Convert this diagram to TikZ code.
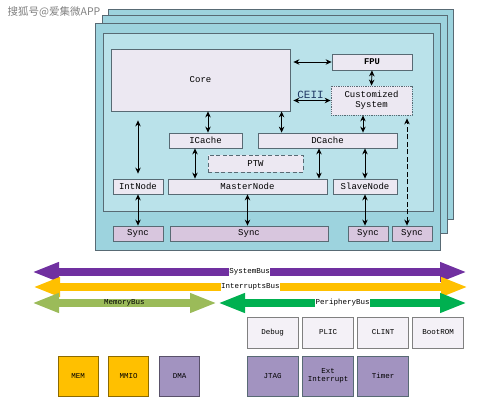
\documentclass[tikz,border=0pt]{standalone}
\usepackage{fontspec}
\setmonofont{Liberation Mono}
\newfontfamily\cjk{Noto Sans CJK SC}
\usetikzlibrary{positioning,calc,arrows.meta}

\definecolor{sheet}{RGB}{157,211,222}
\definecolor{inner}{RGB}{186,226,234}
\definecolor{edge}{RGB}{88,106,116}
\definecolor{unit}{RGB}{236,232,242}
\definecolor{syncc}{RGB}{216,198,222}
\definecolor{periph}{RGB}{162,147,192}
\definecolor{gold}{RGB}{255,192,0}
\definecolor{sysbus}{RGB}{112,48,160}
\definecolor{membus}{RGB}{155,187,89}
\definecolor{perbus}{RGB}{0,176,80}
\definecolor{ceil}{RGB}{31,56,100}

\begin{document}
\begin{tikzpicture}[x=1pt, y=-1pt, >={Stealth[length=6pt,width=5.5pt]},
  every box/.style={draw=edge, fill=unit, line width=0.8pt, inner sep=1pt,
    font=\ttfamily\fontsize{9}{10}\selectfont},
  wh/.style 2 args={minimum width=#1pt, minimum height=#2pt},
  sync box/.style={fill=syncc},
  small box/.style={font=\ttfamily\fontsize{7.5}{8.5}\selectfont, align=center, line width=1pt},
  link/.style={<->, line width=0.9pt},
  bus/.style={line width=7.5pt, arrows={Triangle[length=27pt,width=18pt]-Triangle[length=27pt,width=18pt]}},
  bus label/.style={font=\ttfamily\fontsize{7.5}{8}\selectfont, fill=white, inner sep=0.6pt}]

  \useasboundingbox (0,0) rectangle (500,417);

  \node [text=gray, font=\cjk\fontsize{10.5}{11}\selectfont, inner sep=0pt] (mark) at (54,12) {搜狐号@爱集微APP};

  % stacked cores
  \draw [edge, fill=sheet, line width=0.8pt] (108,9) rectangle (453,219);
  \draw [edge, fill=sheet, line width=0.8pt] (102,15) rectangle (447,233);
  \draw [edge, fill=sheet, line width=0.8pt] (95,23) rectangle (440,250);
  \draw [edge, fill=inner, line width=0.8pt] (103,33) rectangle (433,211);

  \node [every box/.try, wh={179}{62}] (core) at (200.5,80) {Core};
  \node [every box/.try, wh={80}{16}, font=\ttfamily\bfseries\fontsize{8.8}{10}\selectfont] (fpu) at (372,62) {FPU};
  \node [every box/.try, wh={81}{29}, densely dotted, align=center] (cust) at (371.5,100.5) {Customized\\System};
  \node [every box/.try, wh={73}{15}] (icache) at (205.5,140.5) {ICache};
  \node [every box/.try, wh={139}{15}] (dcache) at (327.5,140.5) {DCache};
  \node [every box/.try, wh={95}{17}, dash pattern=on 4pt off 2.5pt, line width=1pt] (ptw) at (255.5,163.5) {PTW};
  \node [every box/.try, wh={50}{15}] (intnode) at (138,186.5) {IntNode};
  \node [every box/.try, wh={159}{15}] (master) at (247.5,186.5) {MasterNode};
  \node [every box/.try, wh={64}{15}] (slave) at (365,186.5) {SlaveNode};

  \foreach \x/\w [count=\i] in {138/50, 249/158, 368/40, 412/40}
    \node [every box/.try, sync box, wh={\w}{15}] (sync-\i) at (\x,233.5) {Sync};

  % links inside the core
  \draw [link, shorten <=3pt] (fpu.west -| core.east) -- (fpu.west);
  \draw [link, shorten <=3pt] (cust.west -| core.east) -- (cust.west)
    node [above, midway, text=ceil, font=\ttfamily\fontsize{11}{12}\selectfont, inner sep=1.5pt] {CEII};
  \draw [link] (fpu.south) -- (cust.north);
  \draw [link, shorten <=5pt, shorten >=9pt] (intnode.north) -- (intnode.north |- core.south);
  \draw [link] ($(icache.north)+(2.5,0)$) -- ($(icache.north |- core.south)+(2.5,0)$);
  \draw [link] ($(dcache.north west)+(24,0)$) -- ($(dcache.north west |- core.south)+(24,0)$);
  \draw [link] ($(cust.south)+(-8.5,0)$) -- ($(cust.south |- dcache.north)+(-8.5,0)$);
  \draw [link] ($(icache.south)+(-10.5,0)$) -- ($(icache.south |- master.north)+(-10.5,0)$);
  \draw [link] ($(dcache.south)+(-8.5,0)$) -- ($(dcache.south |- master.north)+(-8.5,0)$);
  \draw [link] (slave.north) -- (slave.north |- dcache.south);
  \draw [link] (intnode.south) -- (sync-1.north -| intnode.south);
  \draw [link] (master.south) -- (sync-2.north -| master.south);
  \draw [link] (slave.south) -- (sync-3.north -| slave.south);
  \draw [link, dashed, dash pattern=on 5pt off 2.5pt, shorten >=3pt] ($(sync-4.north)+(-5,0)$) -- ($(sync-4.north |- cust.south)+(-5,0)$);

  % buses
  \coordinate (sys-w) at (32,272);   \coordinate (sys-e) at (467,272);
  \coordinate (irq-w) at (33,287);   \coordinate (irq-e) at (468,287);
  \coordinate (mem-w) at (32,303);   \coordinate (mem-e) at (217,303);
  \coordinate (per-w) at (218,303);  \coordinate (per-e) at (467,303);

  \draw [bus, sysbus] (sys-w) -- (sys-e) node [bus label, midway, text=black] {SystemBus};
  \draw [bus, gold] (irq-w) -- (irq-e) node [bus label, midway, text=black] {InterruptsBus};
  \draw [bus, membus] (mem-w) -- (mem-e) node [bus label, fill=none, midway, text=black] {MemoryBus};
  \draw [bus, perbus] (per-w) -- (per-e) node [bus label, midway, text=black] {PeripheryBus};

  % peripherals
  \foreach \m/\x in {Debug/272.5, PLIC/328, CLINT/383, BootROM/438}
    \node [every box/.try, small box, wh={51}{31}, draw=gray, fill=unit!60!white] (per-\m) at (\x,332.5) {\m};

  \foreach \m/\l/\x in {jtag/JTAG/272.5, ext/{Ext\\Interrupt}/328, timer/Timer/383}
    \node [every box/.try, small box, wh={51}{40}, draw=edge, fill=periph] (dev-\m) at (\x,376) {\l};

  \foreach \m/\l/\c/\x in {mem/MEM/gold/78, mmio/MMIO/gold/128.5, dma/DMA/periph/179.5}
    \node [every box/.try, small box, wh={40}{40}, draw=\c!55!black, fill=\c] (dev-\m) at (\x,376) {\l};

\end{tikzpicture}
\end{document}
